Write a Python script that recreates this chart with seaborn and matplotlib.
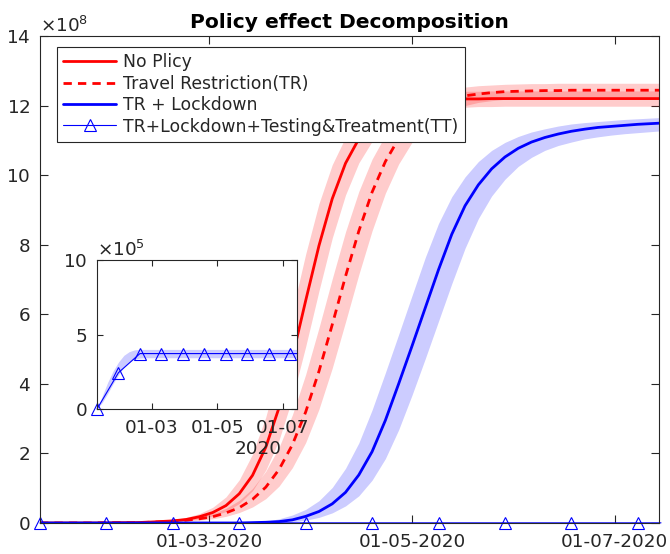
import numpy as np
import pandas as pd
import matplotlib
matplotlib.use("Agg")
import matplotlib.pyplot as plt
import matplotlib.dates as mdates
from matplotlib.ticker import ScalarFormatter, MultipleLocator
import seaborn as sns

START = pd.Timestamp("2020-01-10")

# Cumulative infections (x 1e8), model output every 4 days from START
days = np.arange(0, 189, 4)

no_policy = [0.00, 0.00, 0.00, 0.00, 0.00, 0.00, 0.01, 0.01, 0.02, 0.04, 0.06, 0.10,
             0.18, 0.30, 0.50, 0.84, 1.37, 2.18, 3.32, 4.76, 6.39, 7.97, 9.32, 10.34,
             11.04, 11.50, 11.78, 11.95, 12.05, 12.11, 12.15, 12.17, 12.19, 12.19, 12.20, 12.20,
             12.20, 12.20, 12.20, 12.20, 12.20, 12.20, 12.20, 12.20, 12.20, 12.20, 12.20, 12.20]
no_policy_lo = [0.00, 0.00, 0.00, 0.00, 0.00, 0.00, 0.00, 0.01, 0.01, 0.02, 0.04, 0.07,
                0.12, 0.20, 0.33, 0.56, 0.93, 1.52, 2.39, 3.59, 5.07, 6.67, 8.19, 9.43,
                10.35, 10.97, 11.37, 11.62, 11.77, 11.85, 11.91, 11.94, 11.95, 11.97, 11.97, 11.98,
                11.98, 11.98, 11.98, 11.98, 11.98, 11.98, 11.98, 11.98, 11.98, 11.98, 11.98, 11.98]
no_policy_hi = [0.00, 0.00, 0.00, 0.00, 0.00, 0.01, 0.01, 0.02, 0.03, 0.05, 0.09, 0.16,
                0.27, 0.45, 0.75, 1.24, 1.98, 3.05, 4.46, 6.09, 7.73, 9.18, 10.30, 11.09,
                11.61, 11.93, 12.13, 12.25, 12.32, 12.36, 12.39, 12.40, 12.41, 12.41, 12.42, 12.42,
                12.42, 12.42, 12.42, 12.42, 12.42, 12.42, 12.42, 12.42, 12.42, 12.42, 12.42, 12.42]

travel = [0.00, 0.00, 0.00, 0.00, 0.00, 0.01, 0.01, 0.01, 0.02, 0.03, 0.05, 0.08,
          0.12, 0.18, 0.29, 0.44, 0.68, 1.03, 1.54, 2.25, 3.19, 4.36, 5.70, 7.09,
          8.39, 9.51, 10.39, 11.05, 11.51, 11.83, 12.04, 12.18, 12.28, 12.33, 12.37, 12.40,
          12.41, 12.42, 12.43, 12.43, 12.44, 12.44, 12.44, 12.44, 12.44, 12.44, 12.44, 12.44]
travel_lo = [0.00, 0.00, 0.00, 0.00, 0.00, 0.00, 0.00, 0.01, 0.01, 0.02, 0.03, 0.05,
             0.08, 0.12, 0.19, 0.30, 0.46, 0.70, 1.06, 1.59, 2.31, 3.27, 4.45, 5.78,
             7.14, 8.40, 9.48, 10.32, 10.94, 11.37, 11.67, 11.87, 12.00, 12.09, 12.14, 12.18,
             12.20, 12.21, 12.22, 12.23, 12.23, 12.24, 12.24, 12.24, 12.24, 12.24, 12.24, 12.24]
travel_hi = [0.00, 0.00, 0.00, 0.00, 0.00, 0.01, 0.01, 0.02, 0.03, 0.05, 0.07, 0.11,
             0.18, 0.27, 0.42, 0.65, 0.99, 1.49, 2.18, 3.11, 4.27, 5.61, 7.02, 8.37,
             9.53, 10.46, 11.15, 11.65, 11.99, 12.22, 12.37, 12.46, 12.53, 12.57, 12.59, 12.61,
             12.62, 12.63, 12.63, 12.64, 12.64, 12.64, 12.64, 12.64, 12.64, 12.64, 12.64, 12.64]

lockdown = [0.00, 0.00, 0.00, 0.00, 0.00, 0.00, 0.00, 0.00, 0.00, 0.00, 0.00, 0.00,
            0.00, 0.00, 0.00, 0.00, 0.01, 0.02, 0.04, 0.09, 0.19, 0.33, 0.55, 0.88,
            1.38, 2.05, 2.95, 4.00, 5.08, 6.18, 7.28, 8.30, 9.12, 9.72, 10.18, 10.52,
            10.77, 10.95, 11.08, 11.18, 11.26, 11.32, 11.37, 11.40, 11.43, 11.46, 11.48, 11.50]
lockdown_lo = [0.00, 0.00, 0.00, 0.00, 0.00, 0.00, 0.00, 0.00, 0.00, 0.00, 0.00, 0.00,
               0.00, 0.00, 0.00, 0.00, 0.00, 0.01, 0.02, 0.03, 0.08, 0.16, 0.29, 0.49,
               0.78, 1.23, 1.85, 2.68, 3.67, 4.72, 5.80, 6.88, 7.90, 8.75, 9.40, 9.88,
               10.25, 10.51, 10.71, 10.85, 10.95, 11.04, 11.10, 11.15, 11.19, 11.22, 11.25, 11.28]
lockdown_hi = [0.00, 0.00, 0.00, 0.00, 0.00, 0.00, 0.00, 0.00, 0.00, 0.00, 0.00, 0.00,
               0.00, 0.00, 0.00, 0.01, 0.03, 0.05, 0.12, 0.23, 0.39, 0.64, 1.02, 1.57,
               2.30, 3.25, 4.32, 5.42, 6.53, 7.63, 8.61, 9.38, 9.95, 10.39, 10.71, 10.94,
               11.11, 11.24, 11.33, 11.41, 11.47, 11.51, 11.54, 11.57, 11.60, 11.62, 11.64, 11.66]

# Testing & treatment scenario (x 1e5); markers every 20 days
tt_days = [0, 20, 40, 60, 80, 100, 120, 140, 160, 180, 187]
tt_cases = [0.00, 2.44, 3.72, 3.72, 3.72, 3.72, 3.72, 3.72, 3.72, 3.72, 3.72]
tt_band_days = [0, 5, 10, 15, 20, 25, 30, 35, 40, 45, 187]
tt_band_lo = [0.00, 0.45, 1.05, 1.70, 2.30, 2.80, 3.15, 3.35, 3.42, 3.44, 3.44]
tt_band_hi = [0.00, 0.90, 1.80, 2.55, 3.15, 3.60, 3.85, 3.97, 4.00, 4.00, 4.00]

labels = ["No Plicy", "Travel Restriction(TR)", "TR + Lockdown",
          "TR+Lockdown+Testing&Treatment(TT)"]

INK = "#262626"
RED = "#FF0000"
BLUE = "#0000FF"
TICK_SIZE = 13.2

sns.set_theme(style="ticks")
plt.rcParams["font.family"] = ["DejaVu Sans"]
plt.rcParams["axes.edgecolor"] = INK
plt.rcParams["axes.linewidth"] = 0.8
plt.rcParams["xtick.color"] = INK
plt.rcParams["ytick.color"] = INK
plt.rcParams["text.color"] = INK


def to_dates(d):
    return START + pd.to_timedelta(np.asarray(d, dtype=float), unit="D")


def scenario_frame(mid, lo, hi, scale):
    date = to_dates(np.tile(days, 3))
    cases = np.concatenate([lo, mid, hi]) * scale
    return pd.DataFrame({"date": date, "cases": cases})


def style_axes(a, tick_len):
    a.set(xlabel="", ylabel="")
    a.xaxis.set_major_locator(mdates.MonthLocator(bymonth=[3, 5, 7]))
    a.tick_params(direction="in", length=tick_len, width=0.8, top=True,
                  right=True, labelsize=TICK_SIZE, pad=7)
    a.yaxis.get_offset_text().set_fontsize(TICK_SIZE)
    for s in a.spines.values():
        s.set_visible(True)
        s.set_color(INK)
        s.set_linewidth(0.8)


fig = plt.figure(figsize=(6.7, 5.54), dpi=100)
ax = fig.add_axes([0.0597, 0.056, 0.9239, 0.8791])

band_kws = dict(alpha=0.2, linewidth=0)
handles = []
for mid, lo, hi, color, ls in [
    (no_policy, no_policy_lo, no_policy_hi, RED, "-"),
    (travel, travel_lo, travel_hi, RED, (0, (3.0, 2.2))),
    (lockdown, lockdown_lo, lockdown_hi, BLUE, "-"),
]:
    sns.lineplot(data=scenario_frame(mid, lo, hi, 1e8), x="date", y="cases",
                 estimator="median", errorbar=("pi", 100), color=color,
                 linewidth=2, linestyle=ls, err_kws=band_kws, ax=ax)
    handles.append(ax.lines[-1])

tt_marker = dict(marker="^", markersize=8, markerfacecolor="none",
                 markeredgecolor=BLUE, markeredgewidth=0.8,
                 markevery=list(range(10)))
sns.lineplot(x=to_dates(tt_days), y=np.array(tt_cases) * 1e5, color=BLUE,
             linewidth=0.8, errorbar=None, clip_on=False, ax=ax, **tt_marker)
handles.append(ax.lines[-1])

x_end = START + pd.Timedelta(days=186.4)
ax.set_xlim(START, x_end)
ax.set_ylim(0, 14e8)
ax.yaxis.set_major_locator(MultipleLocator(2e8))
yfmt = ScalarFormatter(useMathText=True)
yfmt.set_powerlimits((8, 8))
ax.yaxis.set_major_formatter(yfmt)
ax.xaxis.set_major_formatter(mdates.DateFormatter("%d-%m-%Y"))
style_axes(ax, 6)

ax.set_title("Policy effect Decomposition", fontsize=14.6, fontweight="bold",
             color="black", pad=6)

leg = ax.legend(handles, labels, loc="upper left", bbox_to_anchor=(0.0275, 0.977),
                borderaxespad=0, frameon=True, fancybox=False, framealpha=1,
                edgecolor=INK, fontsize=12.4, handlelength=3.1, handletextpad=0.4,
                labelspacing=0.2, borderpad=0.35)
leg.get_frame().set_linewidth(0.8)

# Inset: zoom on the TT scenario
axi = fig.add_axes([0.1448, 0.2617, 0.2985, 0.2690])
axi.set_facecolor("white")
axi.fill_between(to_dates(tt_band_days), np.array(tt_band_lo) * 1e5,
                 np.array(tt_band_hi) * 1e5, color=BLUE, alpha=0.2, linewidth=0)
sns.lineplot(x=to_dates(tt_days), y=np.array(tt_cases) * 1e5, color=BLUE,
             linewidth=0.8, errorbar=None, clip_on=False, ax=axi, **tt_marker)
axi.set_xlim(START, x_end)
axi.set_ylim(0, 10e5)
axi.yaxis.set_major_locator(MultipleLocator(5e5))
ifmt = ScalarFormatter(useMathText=True)
ifmt.set_powerlimits((5, 5))
axi.yaxis.set_major_formatter(ifmt)
axi.xaxis.set_major_formatter(mdates.DateFormatter("%d-%m"))
style_axes(axi, 4)
axi.text(0.805, -0.27, "2020", transform=axi.transAxes, ha="center",
         va="center", fontsize=TICK_SIZE, color=INK)

fig.savefig("out.png", dpi=100)
